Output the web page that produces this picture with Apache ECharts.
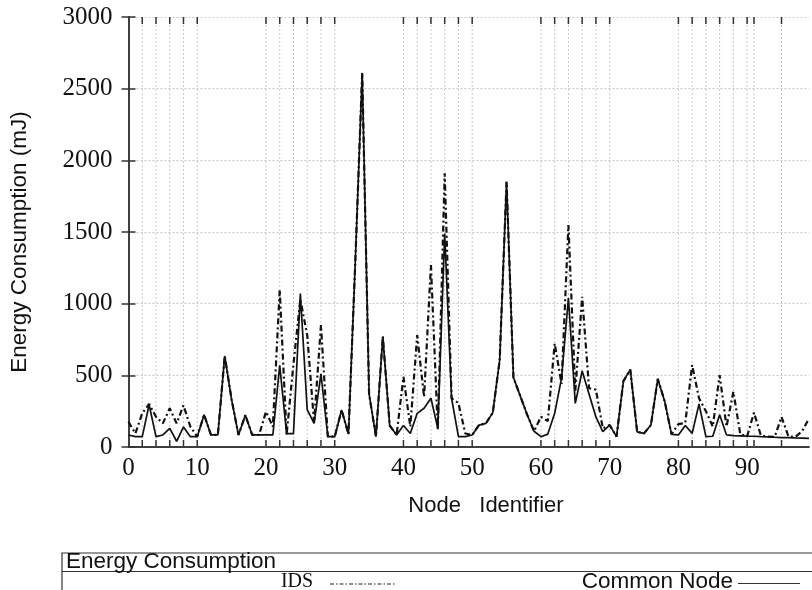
<!DOCTYPE html>
<html>
<head>
<meta charset="utf-8">
<script src="https://cdn.jsdelivr.net/npm/echarts@6/dist/echarts.min.js"></script>
<style>
html,body{margin:0;padding:0;background:#fff;}
#chart{width:812px;height:590px;}
</style>
</head>
<body>
<div id="chart"></div>
<script>
// Node identifiers 0..99
var nodeIds = [];
for (var i = 0; i < 100; i++) nodeIds.push(i);

// Energy consumption (mJ) of IDS nodes
var idsValues = [
  176, 94, 235, 300, 211, 165, 270, 165, 290, 142,
  72, 225, 84, 84, 635, 330, 84, 222, 84, 84,
  247, 142, 1095, 84, 580, 1030, 780, 170, 850, 72,
  72, 258, 90, 1300, 2610, 370, 72, 770, 150, 84,
  490, 142, 780, 350, 1270, 119, 1910, 340, 306, 94,
  84, 153, 165, 240, 607, 1851, 485, 355, 225, 110,
  211, 180, 722, 440, 1549, 390, 1048, 410, 400, 130,
  153, 72, 460, 540, 105, 95, 153, 475, 320, 88,
  160, 168, 572, 340, 250, 142, 502, 142, 386, 90,
  75, 240, 80, 72, 70, 210, 75, 70, 110, 200
];

// Energy consumption (mJ) of common nodes
var commonValues = [
  84, 72, 72, 295, 72, 84, 130, 40, 140, 72,
  72, 225, 84, 84, 635, 330, 84, 222, 84, 84,
  84, 84, 570, 94, 94, 1070, 260, 165, 510, 72,
  72, 258, 90, 1300, 2610, 370, 72, 770, 150, 84,
  150, 94, 235, 270, 340, 130, 1490, 340, 72, 72,
  84, 153, 165, 240, 607, 1851, 485, 355, 225, 110,
  72, 90, 235, 480, 1040, 304, 530, 370, 210, 107,
  153, 72, 460, 540, 105, 95, 153, 475, 320, 88,
  84, 150, 95, 300, 72, 75, 225, 84, 80, 78,
  76, 75, 72, 70, 68, 66, 65, 63, 62, 60
];

// Node identifiers marked with vertical grid lines / tics
var markedNodes = [2,4,6,8,10,20,22,24,26,28,30,40,42,44,46,48,50,60,62,64,66,68,70,80,82,84,86,88,90,91,95];

// Axis tick values
var xTicks = [0,10,20,30,40,50,60,70,80,90];
var yTicks = [0,500,1000,1500,2000,2500,3000];

var seriesNames = ['IDS', 'Common Node'];

var chart = echarts.init(document.getElementById('chart'), null, {renderer: 'canvas'});

function pairs(vals) {
  return vals.map(function (v, i) { return [nodeIds[i], v]; });
}

var serif = '"Liberation Serif", "DejaVu Serif", serif';
var sans = '"Liberation Sans", Arial, sans-serif';

var option = {
  animation: false,
  backgroundColor: '#fff',
  grid: {left: 128.5, top: 17, right: -2.6, bottom: 143, containLabel: false},
  xAxis: [{
    type: 'value', min: 0, max: 99, interval: 10,
    axisLine: {show: true, lineStyle: {color: '#333', width: 1.5}},
    axisTick: {show: false},
    splitLine: {show: false},
    axisLabel: {
      margin: 9, color: '#111', fontFamily: serif, fontSize: 25,
      formatter: function (v) { return xTicks.indexOf(v) >= 0 ? String(v) : ''; }
    }
  }, {
    type: 'value', min: 0, max: 99, position: 'top',
    axisLine: {show: true, lineStyle: {color: '#333', width: 1.5}},
    axisTick: {show: false}, axisLabel: {show: false}, splitLine: {show: false}
  }],
  yAxis: [{
    type: 'value', min: 0, max: 3000, interval: 500,
    axisLine: {show: true, lineStyle: {color: '#333', width: 1.5}},
    axisTick: {show: true, inside: true, length: 7, lineStyle: {color: '#333', width: 1.5}},
    splitLine: {show: true, lineStyle: {color: '#c8c8c8', type: [2, 2], width: 1}},
    axisLabel: {
      margin: 16, color: '#111', fontFamily: serif, fontSize: 25,
      formatter: function (v) { return yTicks.indexOf(v) >= 0 ? String(v) : ''; }
    }
  }, {
    type: 'value', min: 0, max: 3000, interval: 500, position: 'right',
    axisLine: {show: true, lineStyle: {color: '#333', width: 1.5}},
    axisTick: {show: true, inside: true, length: 7, lineStyle: {color: '#333', width: 1.5}},
    axisLabel: {show: false}, splitLine: {show: false}
  }],
  series: [{
    type: 'custom',
    name: 'grid',
    silent: true,
    z: 1,
    xAxisIndex: 0, yAxisIndex: 0,
    data: markedNodes,
    renderItem: function (params, api) {
      var x = api.value(0);
      var p0 = api.coord([x, 0]);
      var p1 = api.coord([x, 3000]);
      return {
        type: 'group',
        children: [
          {type: 'line', shape: {x1: p0[0], y1: p0[1], x2: p1[0], y2: p1[1]},
           style: {stroke: '#c8c8c8', lineWidth: 1, lineDash: [2, 2]}},
          {type: 'line', shape: {x1: p0[0], y1: p0[1], x2: p0[0], y2: p0[1] - 7},
           style: {stroke: '#333', lineWidth: 1.5}},
          {type: 'line', shape: {x1: p1[0], y1: p1[1], x2: p1[0], y2: p1[1] + 7},
           style: {stroke: '#333', lineWidth: 1.5}}
        ]
      };
    },
    encode: {x: 0}
  }, {
    type: 'line',
    name: seriesNames[0],
    data: pairs(idsValues),
    showSymbol: false,
    z: 3,
    lineStyle: {color: '#111', width: 2.2, type: [6, 3, 2, 3]}
  }, {
    type: 'line',
    name: seriesNames[1],
    data: pairs(commonValues),
    showSymbol: false,
    z: 4,
    lineStyle: {color: '#111', width: 1.7, type: 'solid'}
  }],
  graphic: [
    {type: 'text', x: 20, y: 242, rotation: Math.PI / 2,
     style: {text: 'Energy Consumption (mJ)', font: '22.5px ' + sans, fill: '#111', textAlign: 'center', textVerticalAlign: 'middle'}},
    {type: 'text', x: 486, y: 506,
     style: {text: 'Node   Identifier', font: '22px ' + sans, fill: '#111', textAlign: 'center', textVerticalAlign: 'middle'}},
    {type: 'rect', shape: {x: 62, y: 553, width: 780, height: 60},
     style: {fill: 'none', stroke: '#333', lineWidth: 1.2}},
    {type: 'line', shape: {x1: 62, y1: 571.5, x2: 812, y2: 571.5},
     style: {stroke: '#333', lineWidth: 1.2}},
    {type: 'text', x: 66, y: 562,
     style: {text: 'Energy Consumption', font: '22.5px ' + sans, fill: '#111', textAlign: 'left', textVerticalAlign: 'middle'}},
    {type: 'text', x: 297, y: 582,
     style: {text: seriesNames[0], font: '20px ' + serif, fill: '#111', textAlign: 'center', textVerticalAlign: 'middle'}},
    {type: 'line', shape: {x1: 330, y1: 584, x2: 396, y2: 584},
     style: {stroke: '#222', lineWidth: 1, lineDash: [4, 2, 1.5, 2]}},
    {type: 'text', x: 733, y: 582,
     style: {text: seriesNames[1], font: '22.5px ' + sans, fill: '#111', textAlign: 'right', textVerticalAlign: 'middle'}},
    {type: 'line', shape: {x1: 738, y1: 583.5, x2: 800, y2: 583.5},
     style: {stroke: '#333', lineWidth: 1}}
  ]
};

chart.setOption(option);
</script>
</body>
</html>
